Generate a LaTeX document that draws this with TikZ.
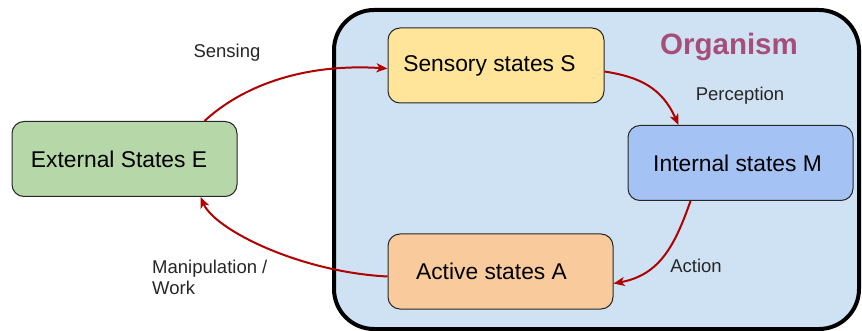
\documentclass[tikz,border=0pt]{standalone}
\usepackage{fontspec}
\setmainfont{Liberation Sans}
\usetikzlibrary{arrows.meta}
\definecolor{orgfill}{HTML}{CFE2F3}
\definecolor{extfill}{HTML}{B6D7A8}
\definecolor{sensfill}{HTML}{FFE599}
\definecolor{intfill}{HTML}{A4C2F4}
\definecolor{actfill}{HTML}{F9CB9C}
\definecolor{orglabel}{HTML}{A64D79}
\definecolor{flow}{HTML}{B00000}
\tikzset{
  statebox/.style={draw=black!85, line width=1pt, rounded corners=12pt,
    minimum width=225pt, minimum height=75pt, inner sep=0pt,
    font=\fontsize{22.8}{26}\selectfont},
  flowlabel/.style={font=\fontsize{18.5}{22}\selectfont, text=black!85, inner sep=0pt},
  flowarrow/.style={draw=flow, line width=2pt,
    -{Stealth[length=11pt,width=9pt,inset=3pt]}}
}
\begin{document}
\begin{tikzpicture}[x=1pt,y=-1pt]
\useasboundingbox (0,0) rectangle (862,331);
% organism boundary
\draw[line width=4pt, fill=orgfill, rounded corners=40pt] (334,10) rectangle (859,329);
\node[font=\fontsize{29.5}{33}\selectfont\bfseries, text=orglabel] (org) at (729,47) {Organism};
% states (a leading kern nudges each caption left of the box centre)
\node[statebox, fill=extfill] (ext) at (124.5,159) {\kern-11pt External States E};
\node[statebox, fill=sensfill, minimum width=216pt] (sens) at (496,65.5) {\kern-13pt Sensory states S};
\node[statebox, fill=intfill] (int) at (740.5,163) {\kern-6pt Internal states M};
\node[statebox, fill=actfill] (act) at (500.5,271.5) {\kern-18pt Active states A};
% anchor points on the boxes
\coordinate (extTop) at ([xshift=80pt]ext.north);
\coordinate (extBot) at ([xshift=76pt]ext.south);
\coordinate (sensIn) at ([yshift=-3pt]sens.west);
\coordinate (sensOut) at ([yshift=-6pt]sens.east);
\coordinate (intIn) at ([xshift=-62pt]int.north);
\coordinate (intOut) at ([xshift=-50pt]int.south);
\coordinate (actOut) at ([yshift=-5pt]act.west);
\coordinate (actIn) at ([yshift=-12pt]act.east);
% flows
\draw[flowarrow] (extTop) .. controls (240,88) and (300,63) .. (sensIn);
\draw[flowarrow] (sensOut) .. controls (640,77) and (662,88) .. (intIn);
\draw[flowarrow] (intOut) .. controls (675,245) and (660,275) .. (actIn);
\draw[flowarrow] (actOut) .. controls (300,272) and (215,230) .. (extBot);
% flow labels
\node[flowlabel] (lsense) at (227,53) {Sensing};
\node[flowlabel] (lperc) at (740,96) {Perception};
\node[flowlabel] (lact) at (696,266) {Action};
\node[flowlabel, anchor=west, align=left] (lmanip) at (152,277) {Manipulation /\\[-1pt]Work};
\end{tikzpicture}
\end{document}
